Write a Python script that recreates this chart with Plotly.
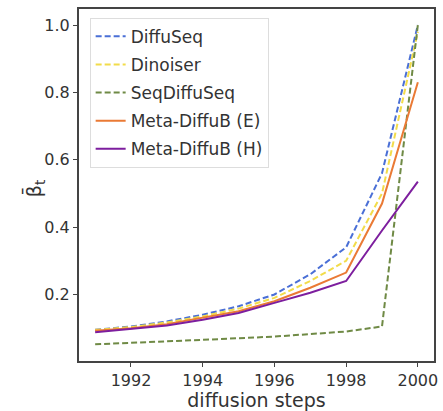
import plotly.graph_objects as go

steps = [1991, 1992, 1993, 1994, 1995, 1996, 1997, 1998, 1999, 2000]
diffuseq = [0.095, 0.105, 0.12, 0.14, 0.165, 0.2, 0.26, 0.34, 0.56, 1.0]
dinoiser = [0.095, 0.103, 0.117, 0.135, 0.158, 0.19, 0.24, 0.30, 0.50, 0.98]
seqdiffuseq = [0.052, 0.056, 0.06, 0.065, 0.07, 0.075, 0.082, 0.09, 0.105, 1.0]
meta_e = [0.092, 0.1, 0.112, 0.13, 0.15, 0.18, 0.22, 0.265, 0.47, 0.83]
meta_h = [0.088, 0.097, 0.108, 0.125, 0.145, 0.175, 0.205, 0.24, 0.39, 0.535]

series = [
    ("DiffuSeq", diffuseq, "#4a6fd6", "6px,3px"),
    ("Dinoiser", dinoiser, "#f2dc4a", "6px,3px"),
    ("SeqDiffuSeq", seqdiffuseq, "#6f8a45", "6px,3px"),
    ("Meta-DiffuB (E)", meta_e, "#ea7a35", "solid"),
    ("Meta-DiffuB (H)", meta_h, "#7d1e9e", "solid"),
]

fig = go.Figure()
for i, (name, vals, color, dash) in enumerate(series):
    fig.add_trace(go.Scatter(x=steps, y=vals, mode="lines", name=name,
                             legendgroup=f"g{i}",
                             line=dict(color=color, width=2, dash=dash)))

font = "DejaVu Sans"
fig.update_layout(
    width=443, height=411,
    margin=dict(l=79, r=5, t=9, b=48),
    paper_bgcolor="white", plot_bgcolor="white",
    font=dict(family=font, size=16, color="#333"),
    showlegend=True,
    legend=dict(x=0.03, y=0.975, xanchor="left", yanchor="top",
                bgcolor="rgba(255,255,255,0.85)", bordercolor="#dddddd", borderwidth=1,
                font=dict(size=17, color="#333"), tracegroupgap=3),
    xaxis=dict(range=[1990.55, 2000.45], tickvals=[1992, 1994, 1996, 1998, 2000],
               showgrid=False, zeroline=False, showline=True, mirror=True,
               linecolor="#444", linewidth=2, ticks="outside", ticklen=4,
               tickcolor="#444", tickfont=dict(size=16, color="#333"),
               title=dict(text="diffusion steps", font=dict(size=19, color="#333"), standoff=2)),
    yaxis=dict(range=[0.0025, 1.0475], tickvals=[0.2, 0.4, 0.6, 0.8, 1.0],
               ticktext=["0.2", "0.4", "0.6", "0.8", "1.0"],
               showgrid=False, zeroline=False, showline=True, mirror=True,
               linecolor="#444", linewidth=2, ticks="outside", ticklen=4,
               tickcolor="#444", tickfont=dict(size=16, color="#333")),
)
fig.add_annotation(text="β̄<sub>t</sub>", xref="paper", yref="paper", x=-0.17, y=0.49,
                   showarrow=False, textangle=-90, font=dict(size=19, color="#333"))

fig.write_html("out.html")
